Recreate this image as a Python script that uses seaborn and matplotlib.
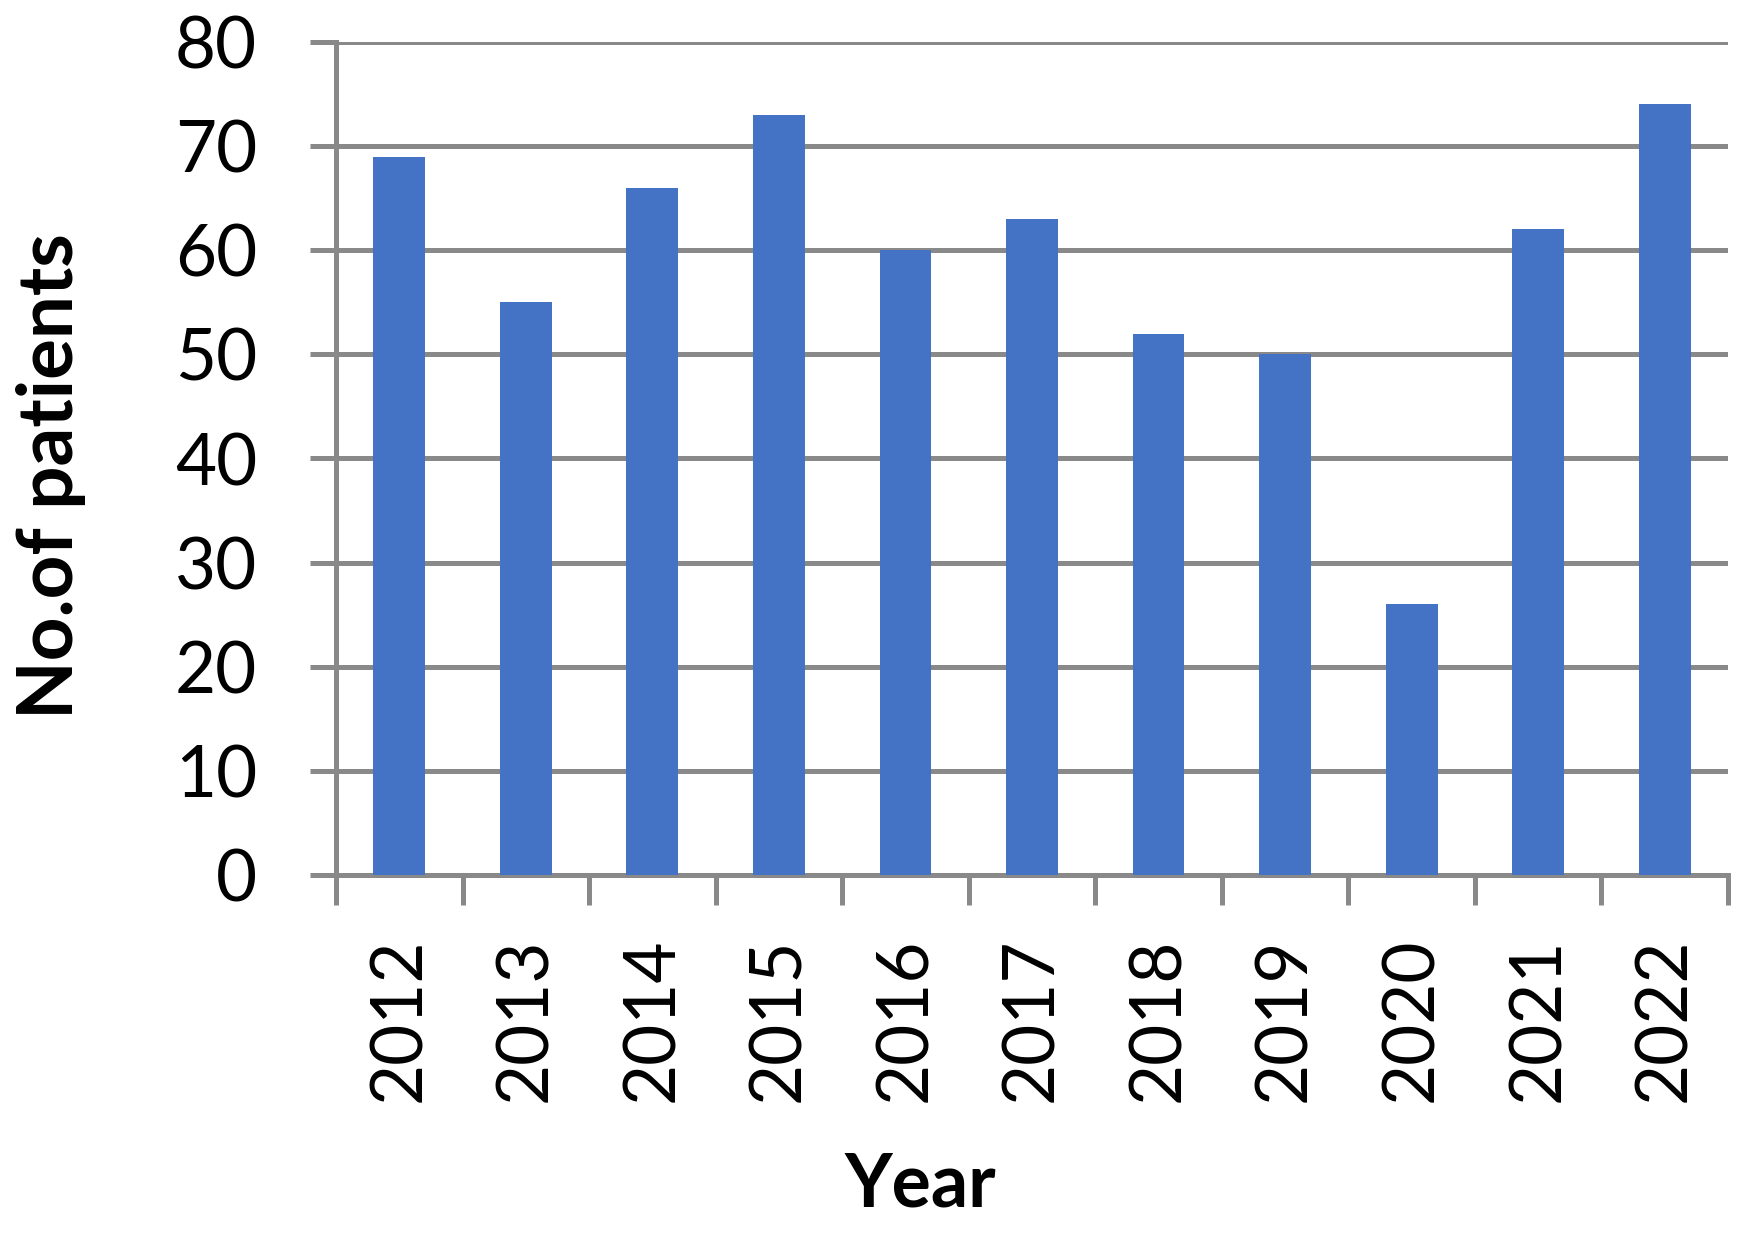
import matplotlib
matplotlib.use('Agg')
import matplotlib.pyplot as plt
import seaborn as sns
import pandas as pd
from matplotlib.ticker import MultipleLocator, FixedLocator

years = ['2012', '2013', '2014', '2015', '2016', '2017', '2018', '2019', '2020', '2021', '2022']
patients = [69, 55, 66, 73, 60, 63, 52, 50, 26, 62, 74]

df = pd.DataFrame({'Year': years, 'Patients': patients})

sns.set_style('white')
plt.rcParams['font.family'] = ['Lato', 'DejaVu Sans']
plt.rcParams['text.color'] = 'black'
plt.rcParams['axes.labelcolor'] = 'black'
plt.rcParams['xtick.labelcolor'] = 'black'
plt.rcParams['ytick.labelcolor'] = 'black'

grid_color = '#898989'
fig = plt.figure(figsize=(17.45, 12.33), dpi=100)
ax = fig.add_axes([336 / 1745, 1 - 875 / 1233, 1392 / 1745, 833 / 1233])

sns.barplot(data=df, x='Year', y='Patients', color='#4472C4', saturation=1,
            width=0.41, linewidth=0, ax=ax, zorder=3)

ax.set_ylim(0, 80)
ax.set_xlim(-0.5, len(years) - 0.5)
ax.yaxis.set_major_locator(MultipleLocator(10))
ax.grid(axis='y', color=grid_color, linewidth=3.6, zorder=0)
ax.set_axisbelow(True)

for side in ['top', 'right']:
    ax.spines[side].set_visible(False)
for side in ['left', 'bottom']:
    ax.spines[side].set_color(grid_color)
    ax.spines[side].set_linewidth(3.6)

# y ticks stick out to the left like the gridlines
ax.tick_params(axis='y', which='major', direction='out', length=18.7, width=3.6,
               color=grid_color, labelsize=51, labelcolor='black', pad=38, left=True)
# x: labels at centres, tick marks at category boundaries
ax.tick_params(axis='x', which='major', length=0, labelsize=51, labelcolor='black',
               pad=45, rotation=90)
ax.xaxis.set_minor_locator(FixedLocator([i - 0.5 for i in range(len(years) + 1)]))
ax.tick_params(axis='x', which='minor', direction='out', length=21.6, width=3.6,
               color=grid_color, bottom=True)
for lbl in ax.get_xticklabels():
    lbl.set_va('top')

ax.set_ylabel('No.of patients', fontsize=55, fontweight='bold', color='black',
              va='center', ha='center')
ax.yaxis.set_label_coords(-0.205, 0.479)
ax.set_xlabel('Year', fontsize=53, fontweight='bold', color='black',
              va='center', ha='center')
ax.xaxis.set_label_coords(0.42, -0.372)

fig.savefig('out.png', dpi=100)
